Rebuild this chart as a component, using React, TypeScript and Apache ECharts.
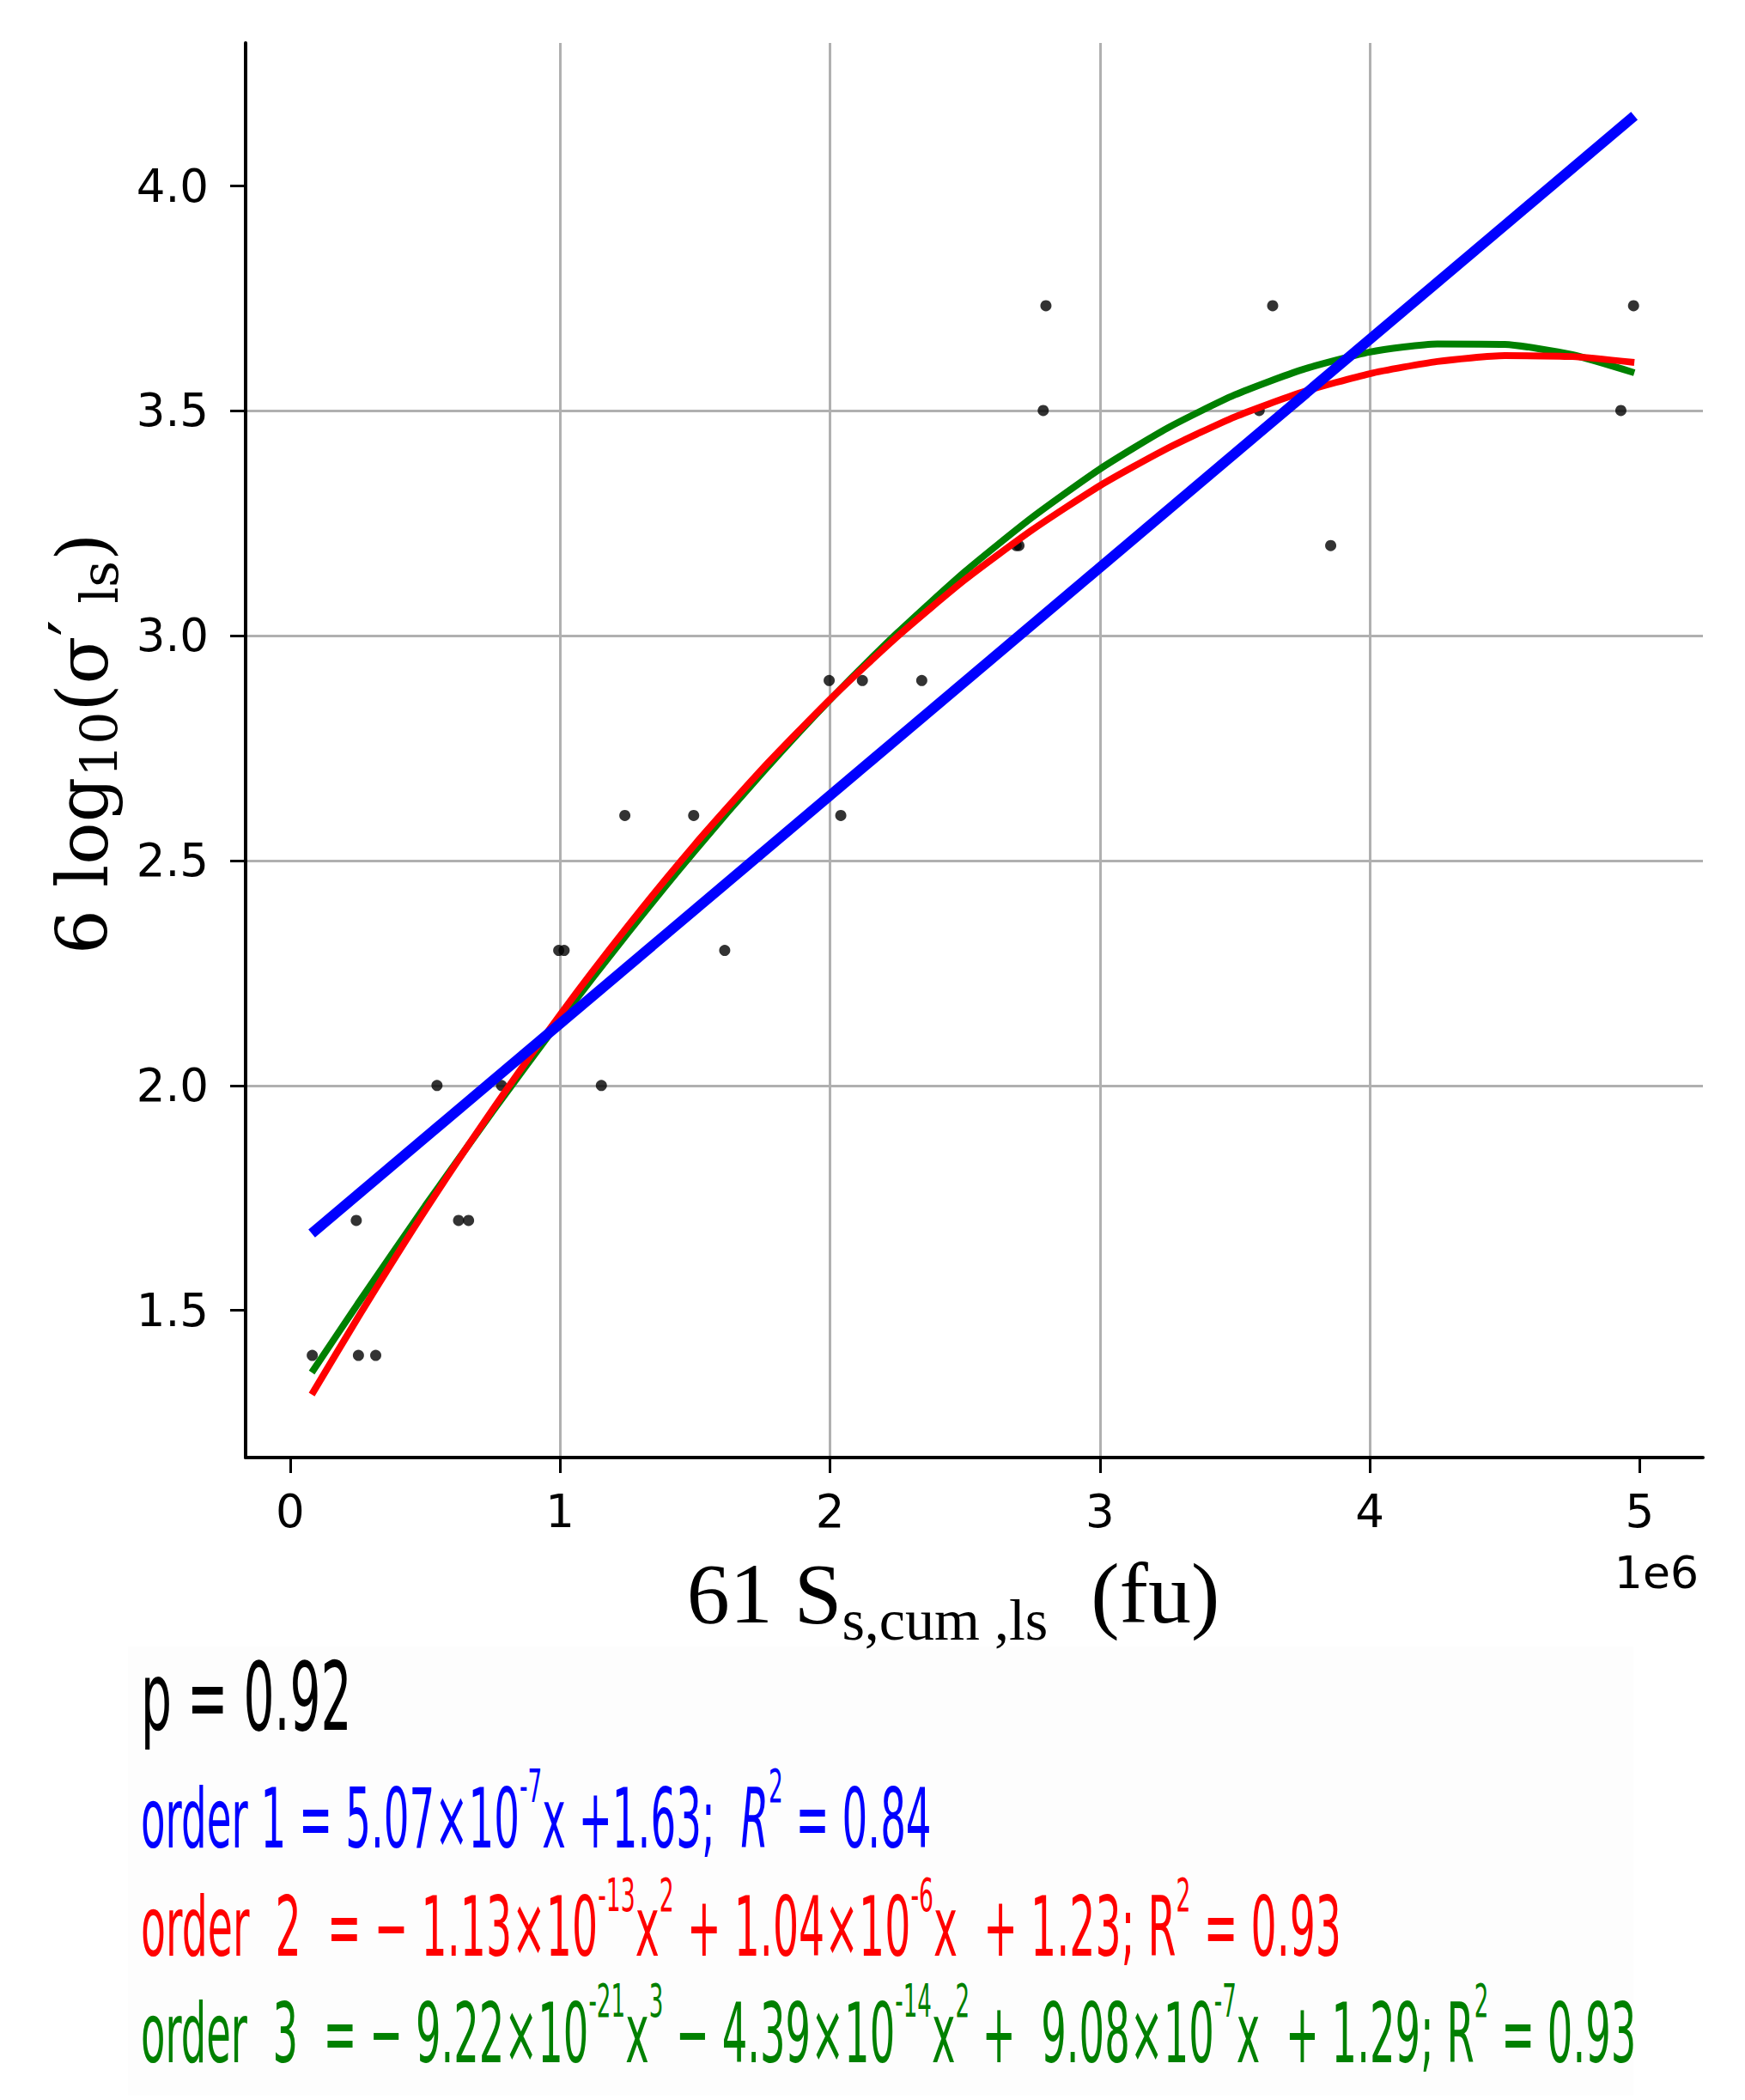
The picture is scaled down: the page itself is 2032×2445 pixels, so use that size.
import React, { useEffect, useRef } from "react";
import * as echarts from "echarts";

// Observed points (x in units of 1e6)
const pointX = [0.082, 0.253, 0.317, 0.245, 0.624, 0.661, 0.544, 0.783, 1.153, 0.995, 1.015, 1.61, 1.24, 1.495, 2.04, 1.997, 2.12, 2.34, 2.69, 2.70, 3.855, 2.79, 3.59, 4.93, 2.80, 3.64, 4.977];
const pointY = [1.40, 1.40, 1.40, 1.70, 1.70, 1.70, 2.00, 2.00, 2.00, 2.30, 2.30, 2.30, 2.60, 2.60, 2.60, 2.90, 2.90, 2.90, 3.20, 3.20, 3.20, 3.50, 3.50, 3.50, 3.733, 3.733, 3.733];

// Fitted curves
const order1X = [0.08, 4.98];
const order1Y = [1.671, 4.155];
const fitX = [0.08, 0.25, 0.5, 0.75, 1, 1.25, 1.5, 1.75, 2, 2.25, 2.5, 2.75, 3, 3.25, 3.5, 3.75, 4, 4.25, 4.5, 4.75, 4.98];
const order2Y = [1.313, 1.483, 1.722, 1.946, 2.157, 2.353, 2.536, 2.704, 2.858, 2.998, 3.124, 3.235, 3.333, 3.416, 3.486, 3.541, 3.582, 3.609, 3.622, 3.620, 3.607];
const order3Y = [1.362, 1.514, 1.732, 1.942, 2.145, 2.338, 2.522, 2.695, 2.857, 3.006, 3.142, 3.263, 3.370, 3.461, 3.535, 3.591, 3.630, 3.648, 3.647, 3.624, 3.584];

const xTicks = [0, 1, 2, 3, 4, 5];
const yTicks = [1.5, 2.0, 2.5, 3.0, 3.5, 4.0];

const BLUE = "#0000ff";
const RED = "#ff0000";
const GREEN = "#008000";

function supStyles(color: string, size = 96, italicR = false) {
  return {
    m: { fontSize: size, lineHeight: 130, fill: color, fontFamily: "DejaVu Sans" },
    s: { fontSize: 54, lineHeight: 60, fill: color, fontFamily: "DejaVu Sans", verticalAlign: "top" },
    r: { fontSize: size, lineHeight: 130, fill: color, fontFamily: "DejaVu Sans", fontStyle: italicR ? "italic" : "normal" },
  };
}

export default function App() {
  const ref = useRef<HTMLDivElement>(null);
  useEffect(() => {
    if (!ref.current) return;
    const chart = echarts.init(ref.current, undefined, { renderer: "svg" });
    const option: any = {
      animation: false,
      backgroundColor: "#ffffff",
      grid: { left: 286, top: 50, right: 49, bottom: 748, containLabel: false },
      xAxis: {
        type: "value",
        min: -0.165,
        max: 5.234,
        axisLine: { show: true, onZero: false, lineStyle: { color: "#000", width: 4 } },
        axisTick: { show: true, length: 18, customValues: xTicks, lineStyle: { color: "#000", width: 3 } },
        axisLabel: {
          customValues: xTicks,
          fontSize: 53,
          color: "#000",
          fontFamily: "DejaVu Sans",
          margin: 36,
          formatter: (v: number) => String(Math.round(v)),
        },
        splitLine: { show: true, showMinLine: false, showMaxLine: false, lineStyle: { color: "#b0b0b0", width: 3 } },
      },
      yAxis: {
        type: "value",
        min: 1.173,
        max: 4.317,
        axisLine: { show: true, onZero: false, lineStyle: { color: "#000", width: 4 } },
        axisTick: { show: true, length: 18, customValues: yTicks, lineStyle: { color: "#000", width: 3 } },
        axisLabel: {
          customValues: yTicks,
          fontSize: 53,
          color: "#000",
          fontFamily: "DejaVu Sans",
          margin: 43,
          formatter: (v: number) => v.toFixed(1),
        },
        splitLine: { show: true, showMinLine: false, showMaxLine: false, lineStyle: { color: "#b0b0b0", width: 3 } },
      },
      series: [
        {
          type: "scatter",
          data: pointX.map((x, i) => [x, pointY[i]]),
          symbolSize: 13,
          itemStyle: { color: "#000" },
          z: 2,
          silent: true,
        },
        {
          type: "line",
          data: fitX.map((x, i) => [x, order3Y[i]]),
          showSymbol: false,
          smooth: 0.2,
          lineStyle: { color: GREEN, width: 8 },
          z: 3,
          silent: true,
        },
        {
          type: "line",
          data: fitX.map((x, i) => [x, order2Y[i]]),
          showSymbol: false,
          smooth: 0.2,
          lineStyle: { color: RED, width: 8 },
          z: 4,
          silent: true,
        },
        {
          type: "line",
          data: order1X.map((x, i) => [x, order1Y[i]]),
          showSymbol: false,
          lineStyle: { color: BLUE, width: 12 },
          z: 5,
          silent: true,
        },
      ],
      graphic: [
        {
          type: "rect",
          shape: { x: 149, y: 1917, width: 1753, height: 523 },
          style: { fill: "#fdfdfd" },
          z: -10,
          silent: true,
        },
        // y axis title
        {
          type: "text",
          x: 96,
          y: 866,
          rotation: Math.PI / 2,
          style: {
            text: "{m|6 log}{s|10}{m|(σ}{p|′}{s| ls}{m|)}",
            align: "center",
            verticalAlign: "middle",
            rich: {
              m: { fontSize: 82, lineHeight: 100, fill: "#000", fontFamily: "DejaVu Serif" },
              s: { fontSize: 60, lineHeight: 60, fill: "#000", fontFamily: "DejaVu Serif", verticalAlign: "bottom" },
              p: { fontSize: 82, lineHeight: 40, fill: "#000", fontFamily: "DejaVu Serif", verticalAlign: "top" },
            },
          },
        },
        // x axis title
        {
          type: "text",
          x: 1110,
          y: 1855,
          style: {
            text: "{m|61 S}{s|s,cum ,ls}{m|  (fu)}",
            align: "center",
            verticalAlign: "middle",
            rich: {
              m: { fontSize: 100, lineHeight: 130, fill: "#000", fontFamily: "Liberation Serif" },
              s: { fontSize: 68, lineHeight: 64, fill: "#000", fontFamily: "Liberation Serif", verticalAlign: "bottom" },
            },
          },
        },
        // offset text
        {
          type: "text",
          x: 1978,
          y: 1831,
          style: { text: "1e6", align: "right", verticalAlign: "middle", font: "52px 'DejaVu Sans'", fill: "#000" },
        },
        // p value
        {
          type: "text",
          x: 164,
          y: 1921,
          scaleX: 0.515,
          style: {
            text: "p = 0.92",
            align: "left",
            verticalAlign: "top",
            fill: "#000",
            font: "110px 'DejaVu Sans'",
            lineHeight: 110,
          },
        },
        {
          type: "text",
          x: 164,
          y: 2053,
          scaleX: 0.487,
          style: {
            text: "{m|order 1 = 5.07×10}{s|-7}{m|x +1.63;  }{r|R}{s|2}{m| = 0.84}",
            align: "left",
            verticalAlign: "top",
            rich: supStyles(BLUE, 96, true),
          },
        },
        {
          type: "text",
          x: 164,
          y: 2179,
          scaleX: 0.494,
          style: {
            text: "{m|order  2  = − 1.13×10}{s|-13}{m|x}{s|2}{m| + 1.04×10}{s|-6}{m|x  + 1.23; R}{s|2}{m| = 0.93}",
            align: "left",
            verticalAlign: "top",
            rich: supStyles(RED, 96),
          },
        },
        {
          type: "text",
          x: 164,
          y: 2303,
          scaleX: 0.484,
          style: {
            text: "{m|order  3  = − 9.22×10}{s|-21}{m|x}{s|3}{m| − 4.39×10}{s|-14}{m|x}{s|2}{m| +  9.08×10}{s|-7}{m|x  + 1.29; R}{s|2}{m| = 0.93}",
            align: "left",
            verticalAlign: "top",
            rich: supStyles(GREEN, 96),
          },
        },
      ],
    };
    chart.setOption(option);
    return () => chart.dispose();
  }, []);
  return (
    <div
      ref={ref}
      style={{ position: "absolute", left: 0, top: 0, width: 2032, height: 2445, background: "#fff" }}
    />
  );
}
